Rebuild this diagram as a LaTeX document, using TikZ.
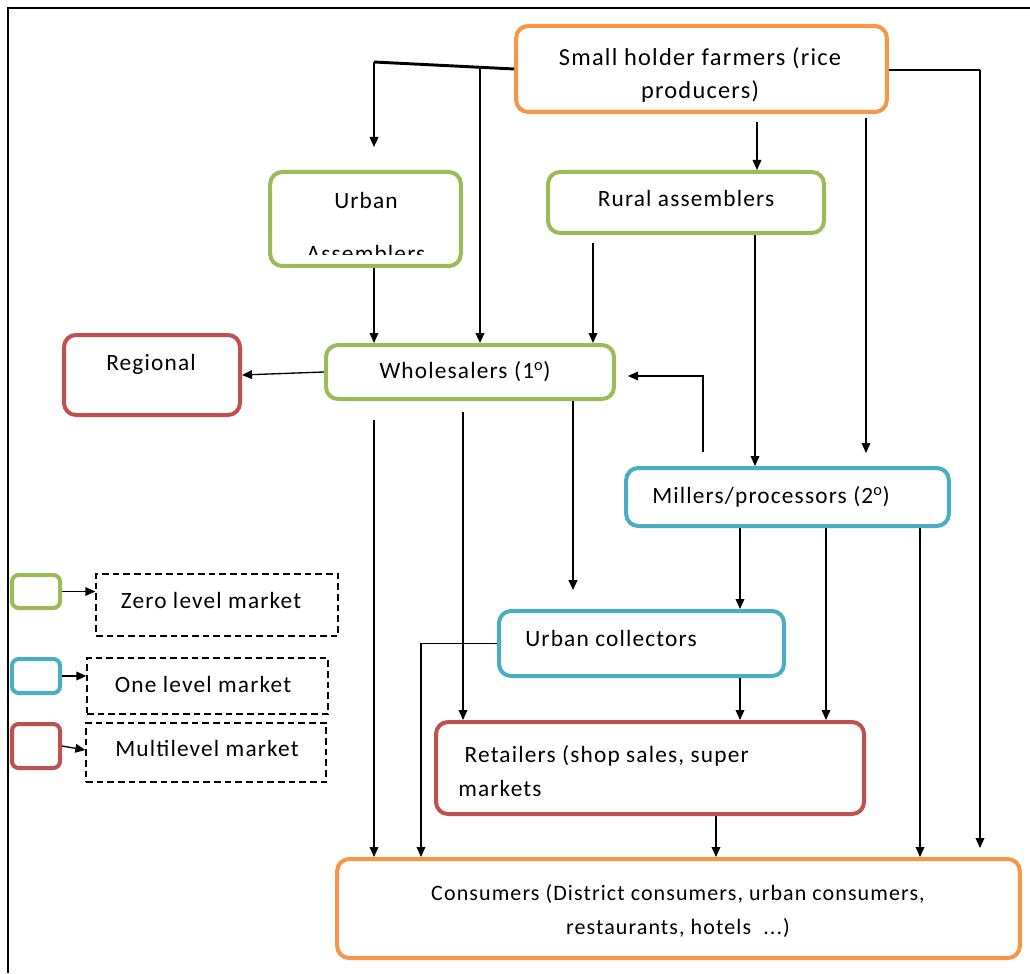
\documentclass[tikz,border=0pt]{standalone}
\usepackage{fontspec}
\setmainfont{Carlito}[LetterSpace=5]
\usetikzlibrary{arrows.meta}
\definecolor{cgreen}{RGB}{155,187,89}
\definecolor{cblue}{RGB}{75,172,198}
\definecolor{cred}{RGB}{192,80,77}
\definecolor{corange}{RGB}{247,150,70}
\begin{document}
\begin{tikzpicture}[x=0.75pt,y=-0.75pt,
  box/.style={draw=#1, rounded corners=9pt, line width=3pt, fill=white, inner sep=0pt},
  lbox/.style={draw=#1, rounded corners=5pt, line width=3pt, fill=white, inner sep=0pt, minimum width=36pt},
  dbox/.style={draw=black, dashed, dash pattern=on 5pt off 3pt, line width=1pt, inner sep=0pt},
  lbl/.style={font=\fontsize{17.5}{25}\selectfont, inner sep=0pt, align=center},
  arr/.style={-{Triangle[length=7.5pt,width=6.5pt]}, line width=1pt},
  heavy/.style={line width=2.2pt},
  mid/.style={line width=1.6pt}]
\useasboundingbox (0,0) rectangle (1030,973);
% frame
\draw[line width=1.6pt] (8,973) -- (8,8) -- (1030,8);

% boxes
\node[box=corange, minimum width=278pt, minimum height=64.5pt] (farm) at (701.5,69) {};
\node[box=cgreen, minimum width=143pt, minimum height=70.5pt] (ua) at (365.5,219) {};
\node[box=cgreen, minimum width=207pt, minimum height=45.75pt] (ra) at (686,202.5) {};
\node[box=cred, minimum width=132pt, minimum height=60pt] (reg) at (152,375) {};
\node[box=cgreen, minimum width=216pt, minimum height=40.5pt] (ws) at (470,372) {};
\node[box=cblue, minimum width=242pt, minimum height=43.5pt] (mill) at (787.5,497) {};
\node[box=cblue, minimum width=213.75pt, minimum height=48.75pt] (uc) at (641.5,643.5) {};
\node[box=cred, minimum width=321pt, minimum height=69pt] (ret) at (650,768) {};
\node[box=corange, minimum width=512pt, minimum height=74.25pt] (con) at (678.5,908.5) {};

% texts
\node[lbl, font=\fontsize{18.3}{25}\selectfont] (tfarm) at (700,75) {Small holder farmers (rice\\producers)};
\node[lbl] (tua1) at (366,200) {Urban};
\begin{scope}
  \clip (272,174) rectangle (459,255);
  \node[lbl] (tua2) at (366,253) {Assemblers};
\end{scope}
\node[lbl] (tra) at (686,198) {Rural assemblers};
\node[lbl] (treg) at (151,364) {Regional};
\node[lbl] (tws) at (465,372) {Wholesalers (1\textsuperscript{o})};
\node[lbl] (tmill) at (771,497) {Millers/processors (2\textsuperscript{o})};
\node[lbl] (tuc) at (611,638) {Urban collectors};
\node[lbl, align=left, anchor=west] (tret) at (458,771) {\ Retailers (shop sales, super\\markets};
\node[lbl, font=\fontsize{16.5}{26}\selectfont] (tcon) at (678,911) {Consumers (District consumers, urban consumers,\\restaurants, hotels \ ...)};

% legend
\node[lbox=cgreen, minimum height=24.75pt] (lg) at (36,591.5) {};
\node[lbox=cblue, minimum height=25.5pt] (lb) at (36,676) {};
\node[lbox=cred, minimum height=33pt] (lr) at (36,746) {};
\node[dbox, minimum width=181.5pt, minimum height=46.5pt] (dg) at (217,605) {};
\node[dbox, minimum width=180.75pt, minimum height=42pt] (db) at (207.5,686) {};
\node[dbox, minimum width=180pt, minimum height=44.25pt] (dr) at (206,752.5) {};
\node[lbl] (tdg) at (211,600) {Zero level market};
\node[lbl] (tdb) at (203,684) {One level market};
\node[lbl] (tdr) at (207,748) {Multilevel market};
\draw[arr] (lg.east) -- (dg.west |- lg.east);
\draw[arr] (lb.east) -- (db.west |- lb.east);
\draw[arr] (lr.east) -- ([yshift=-3pt]dr.west |- lr.east);

% connectors from farmers
\coordinate (tl) at (374,62);
\coordinate (uain) at (374,147);
\coordinate (j480) at (480,66.5);
\coordinate (tr) at (980,70);
\draw[heavy] (farm.west) -- (tl);
\draw[arr] (tl) -- (uain);
\draw[arr, mid] (j480) -- (480,0 |- ws.north);
\draw[heavy] (farm.east |- tr) -- (tr);
\draw[arr] (tr) -- (980,848);
\coordinate (f757) at (757,122);
\draw[arr] (f757) -- (757,0 |- ra.north);
\coordinate (f866) at (866,118);
\draw[arr] (f866) -- (866,453);

% into wholesalers
\draw[arr] (374,0 |- ua.south) -- (374,0 |- ws.north);
\coordinate (r593) at (593,243);
\draw[arr] (r593) -- (593,0 |- ws.north);
\draw[arr] (755,0 |- ra.south) -- (755,0 |- mill.north);
\draw[arr] (ws.west) -- (reg.east);
\coordinate (m703) at (703,452);
\coordinate (ws628) at (628,376);
\draw[arr] (m703) -- (703,376) -- (ws628);

% from wholesalers
\coordinate (w374) at (374,420);
\draw[arr] (w374) -- (374,0 |- con.north);
\coordinate (w463) at (463,412);
\draw[arr] (w463) -- (463,0 |- ret.north);
\coordinate (uc590) at (573,590);
\draw[arr, mid] (573,0 |- ws.south) -- (uc590);

% from millers
\draw[arr] (740,0 |- mill.south) -- (740,0 |- uc.north);
\draw[arr] (826,0 |- mill.south) -- (826,0 |- ret.north);
\draw[arr] (920,0 |- mill.south) -- (920,0 |- con.north);

% from urban collectors
\draw[arr] (uc.west) -- (421,0 |- uc.west) -- (421,0 |- con.north);
\draw[arr] (740,0 |- uc.south) -- (740,0 |- ret.north);

% retailers to consumers
\draw[arr] (716,0 |- ret.south) -- (716,0 |- con.north);
\end{tikzpicture}
\end{document}
